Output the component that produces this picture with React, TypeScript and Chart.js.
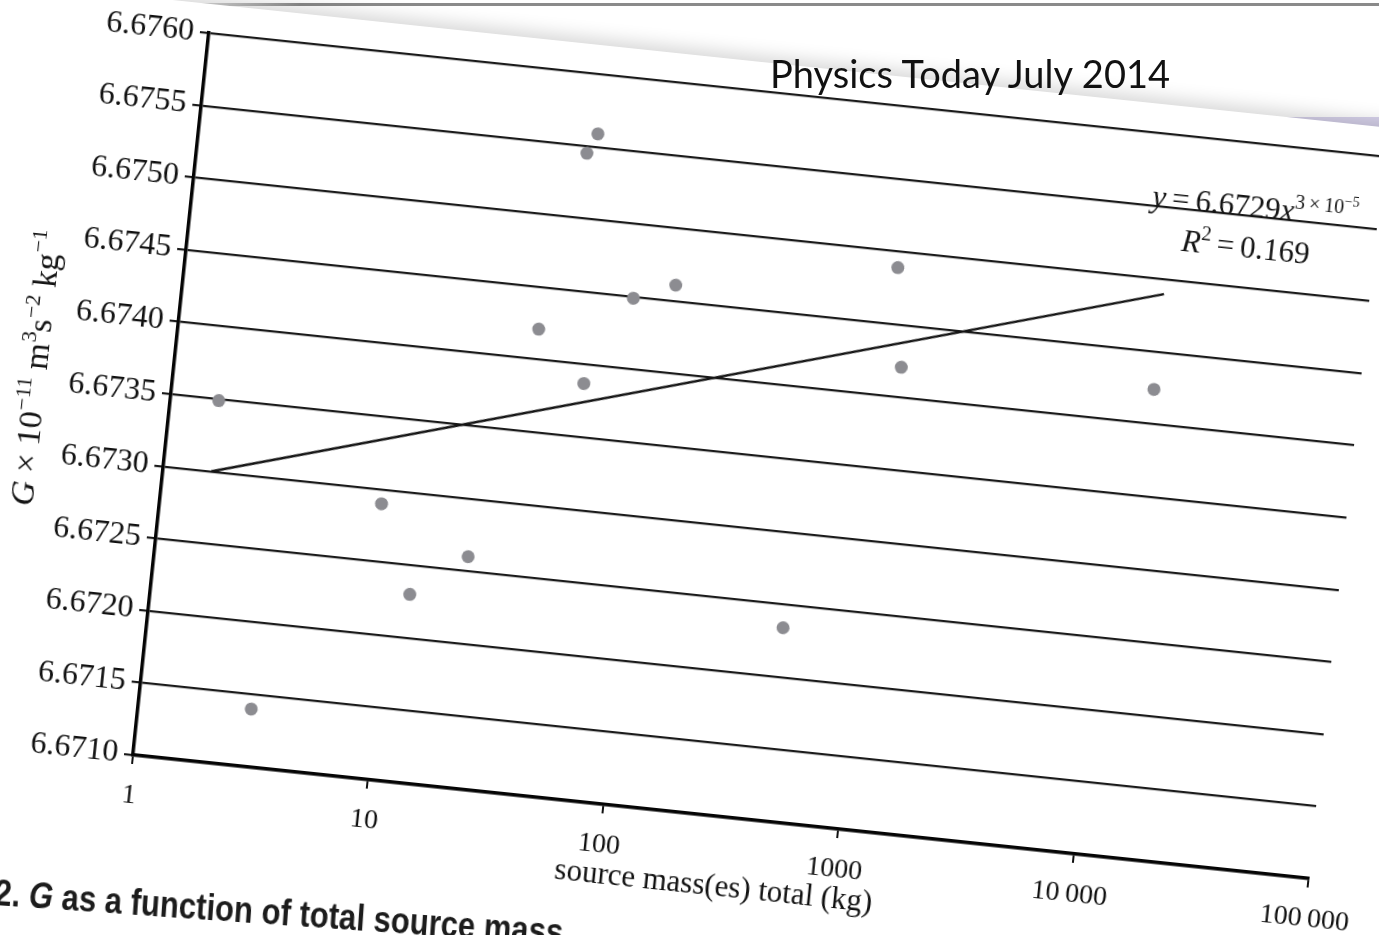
import React, { useEffect, useRef } from "react";
import { Chart, registerables } from "chart.js";

Chart.register(...registerables);

// ---------- data ----------
const massKg = [1.6, 3.0, 8.6, 12.4, 21, 33, 54, 44, 48, 80, 119, 477, 1005, 1150, 13600];
const gValues = [
  6.67349, 6.6714, 6.6729, 6.6723, 6.6726, 6.67421, 6.67387, 6.67545, 6.67559, 6.67449, 6.67461,
  6.67234, 6.67489, 6.67421, 6.67424,
];
const fitMass = [1.6, 13600];
const fitG = [6.673, 6.6749];

const xTickValues = [1, 10, 100, 1000, 10000, 100000];
const xTickLabels = ["1", "10", "100", "1000", "10\u2009000", "100\u2009000"];
const yTickValues = [6.671, 6.6715, 6.672, 6.6725, 6.673, 6.6735, 6.674, 6.6745, 6.675, 6.6755, 6.676];
const yTickLabels = [
  "6.6710", "6.6715", "6.6720", "6.6725", "6.6730", "6.6735", "6.6740", "6.6745", "6.6750", "6.6755", "6.6760",
];

const xTitle = "source mass(es) total (kg)";
const headline = "Physics Today July 2014";
const caption = "2. G as a function of total source mass";

// annotation anchors, in data units
const eqAnchor = { mass: 11000, g: 6.67549 };
const r2Anchor = { mass: 15300, g: 6.67521 };

// ---------- layout ----------
const PLOT_W = 1182;
const PLOT_H = 727;
const PAD_L = 10;
const PAD_T = 24;
const PAD_R = 70;
const PAD_B = 10;
const Y_AXIS_W = 170;
const X_AXIS_H = 99;
const CANVAS_W = PAD_L + Y_AXIS_W + PLOT_W + PAD_R;
const CANVAS_H = PAD_T + PLOT_H + X_AXIS_H + PAD_B;
const ORIGIN = { x: 133, y: 755 };
const ROT_DEG = 6;

const SERIF = "'Liberation Serif', 'Times New Roman', serif";

type Run = { t: string; it?: boolean; s: number; r?: number };

const yTitleRuns: Run[] = [
  { t: "G", it: true, s: 34 },
  { t: " \u00d7 10", s: 34 },
  { t: "\u221211", s: 22, r: 14 },
  { t: " m", s: 34 },
  { t: "3", s: 22, r: 14 },
  { t: "s", s: 34 },
  { t: "\u22122", s: 22, r: 14 },
  { t: " kg", s: 34 },
  { t: "\u22121", s: 22, r: 14 },
];

const eqRuns: Run[] = [
  { t: "y", it: true, s: 31 },
  { t: "\u2009=\u20096.6729", s: 31 },
  { t: "x", it: true, s: 31 },
  { t: "3\u2009\u00d7\u200910", s: 20, r: 13 },
  { t: "\u22125", s: 14, r: 21 },
];

const r2Runs: Run[] = [
  { t: "R", it: true, s: 31 },
  { t: "2", s: 20, r: 13 },
  { t: "\u2009=\u20090.169", s: 31 },
];

function setFont(ctx: CanvasRenderingContext2D, r: Run) {
  ctx.font = `${r.it ? "italic " : ""}${r.s}px ${SERIF}`;
}

function measureRuns(ctx: CanvasRenderingContext2D, runs: Run[]) {
  let w = 0;
  for (const r of runs) {
    setFont(ctx, r);
    w += ctx.measureText(r.t).width;
  }
  return w;
}

function drawRuns(ctx: CanvasRenderingContext2D, runs: Run[], x: number, y: number) {
  let cx = x;
  for (const r of runs) {
    setFont(ctx, r);
    ctx.fillText(r.t, cx, y - (r.r || 0));
    cx += ctx.measureText(r.t).width;
  }
}

const textPlugin = {
  id: "richText",
  afterDraw(chart: any) {
    const { ctx, chartArea: ca, scales } = chart;
    ctx.save();
    ctx.fillStyle = "#141414";
    ctx.textAlign = "left";
    ctx.textBaseline = "alphabetic";

    // y-axis title
    ctx.save();
    const w = measureRuns(ctx, yTitleRuns);
    ctx.translate(ca.left - 137, (ca.top + ca.bottom) / 2);
    ctx.rotate(-Math.PI / 2);
    drawRuns(ctx, yTitleRuns, -w / 2 + 12, 11);
    ctx.restore();

    // fit equation
    drawRuns(ctx, eqRuns, scales.x.getPixelForValue(eqAnchor.mass), scales.y.getPixelForValue(eqAnchor.g));
    drawRuns(ctx, r2Runs, scales.x.getPixelForValue(r2Anchor.mass), scales.y.getPixelForValue(r2Anchor.g));
    ctx.restore();
  },
};

export default function App() {
  const canvasRef = useRef<HTMLCanvasElement | null>(null);
  const wrapRef = useRef<HTMLDivElement | null>(null);

  useEffect(() => {
    const canvas = canvasRef.current!;
    const chart = new Chart(canvas, {
      type: "scatter",
      data: {
        datasets: [
          {
            type: "line",
            label: "fit",
            data: fitMass.map((m, i) => ({ x: m, y: fitG[i] })),
            borderColor: "#141414",
            borderWidth: 2.5,
            pointRadius: 0,
            fill: false,
            order: 2,
          } as any,
          {
            type: "scatter",
            label: "G",
            data: massKg.map((m, i) => ({ x: m, y: gValues[i] })),
            backgroundColor: "#8c8c91",
            borderWidth: 0,
            pointRadius: 6.5,
            order: 1,
          },
        ],
      },
      options: {
        animation: false,
        responsive: false,
        devicePixelRatio: 1,
        layout: { padding: { left: PAD_L, top: PAD_T, right: PAD_R, bottom: PAD_B } },
        plugins: { legend: { display: false }, tooltip: { enabled: false }, title: { display: false } },
        scales: {
          x: {
            type: "logarithmic",
            min: 1,
            max: 100000,
            afterBuildTicks: (s: any) => {
              s.ticks = xTickValues.map((v) => ({ value: v }));
            },
            afterFit: (s: any) => {
              s.height = X_AXIS_H;
            },
            ticks: {
              autoSkip: false,
              maxRotation: 0,
              minRotation: 0,
              padding: 15,
              color: "#111",
              font: { family: SERIF, size: 28 },
              callback: (_v: any, i: number) => xTickLabels[i],
            },
            grid: {
              drawOnChartArea: false,
              drawTicks: true,
              tickLength: 9,
              color: "#111",
              lineWidth: 2,
            },
            border: { display: true, color: "#050505", width: 3.5 },
            title: {
              display: true,
              text: xTitle,
              color: "#111",
              font: { family: SERIF, size: 31 },
              padding: { top: 0, bottom: 10 },
            },
          },
          y: {
            type: "linear",
            min: 6.671,
            max: 6.676,
            afterBuildTicks: (s: any) => {
              s.ticks = yTickValues.map((v) => ({ value: v }));
            },
            afterFit: (s: any) => {
              s.width = Y_AXIS_W;
            },
            ticks: {
              padding: 6,
              color: "#111",
              font: { family: SERIF, size: 32 },
              callback: (_v: any, i: number) => yTickLabels[i],
            },
            grid: {
              drawOnChartArea: true,
              drawTicks: true,
              tickLength: 9,
              color: "#1a1a1a",
              lineWidth: 2.2,
            },
            border: { display: true, color: "#050505", width: 3.5 },
            title: { display: false },
          },
        },
      },
      plugins: [textPlugin],
    });

    const ca = chart.chartArea;
    const wrap = wrapRef.current!;
    wrap.style.left = `${ORIGIN.x - ca.left}px`;
    wrap.style.top = `${ORIGIN.y - ca.bottom}px`;
    wrap.style.transformOrigin = `${ca.left}px ${ca.bottom}px`;

    return () => chart.destroy();
  }, []);

  return (
    <div
      style={{
        position: "fixed",
        left: 0,
        top: 0,
        width: 1379,
        height: 935,
        overflow: "hidden",
        background: "#ffffff",
      }}
    >
      {/* slide decorations behind the page */}
      <div
        style={{
          position: "absolute",
          left: 0,
          top: 3,
          width: 1379,
          height: 3,
          background: "linear-gradient(to right, rgba(130,130,130,0) 170px, #8a8a8a 300px, #8a8a8a 100%)",
        }}
      />
      <div
        style={{
          position: "absolute",
          left: 1150,
          top: 117,
          width: 229,
          height: 16,
          background: "linear-gradient(to right, rgba(214,208,236,0), #d8d3ec 45%, #d8d3ec 100%)",
        }}
      />
      {/* rotated printed page with the chart */}
      <div
        ref={wrapRef}
        style={{
          position: "absolute",
          left: ORIGIN.x - (PAD_L + Y_AXIS_W),
          top: ORIGIN.y - (PAD_T + PLOT_H),
          width: CANVAS_W,
          height: CANVAS_H,
          transform: `rotate(${ROT_DEG}deg)`,
          transformOrigin: `${PAD_L + Y_AXIS_W}px ${PAD_T + PLOT_H}px`,
        }}
      >
        <div
          style={{
            position: "absolute",
            left: -500,
            top: PAD_T - 28,
            width: 3000,
            height: 2000,
            background: "#ffffff",
            boxShadow: "0 -6px 18px rgba(0,0,0,0.16)",
          }}
        />
        <canvas
          ref={canvasRef}
          width={CANVAS_W}
          height={CANVAS_H}
          style={{ position: "absolute", left: 0, top: 0, width: CANVAS_W, height: CANVAS_H }}
        />
      </div>
      {/* figure caption (cut off by the photo) */}
      <div
        style={{
          position: "absolute",
          left: -4,
          top: 873,
          whiteSpace: "nowrap",
          transform: "rotate(4deg) scaleX(0.84)",
          transformOrigin: "0 0",
          fontFamily: "'Liberation Sans', Arial, sans-serif",
          fontWeight: 700,
          fontSize: 37,
          lineHeight: "40px",
          color: "#1c1c1c",
        }}
      >
        {caption.slice(0, 3)}
        <i>{caption.slice(3, 4)}</i>
        {caption.slice(4)}
      </div>
      {/* slide headline */}
      <div
        style={{
          position: "absolute",
          left: 770,
          top: 54,
          whiteSpace: "nowrap",
          fontFamily: "Lato, 'Open Sans', sans-serif",
          fontSize: 38,
          lineHeight: "38px",
          color: "#111111",
        }}
      >
        {headline}
      </div>
    </div>
  );
}
